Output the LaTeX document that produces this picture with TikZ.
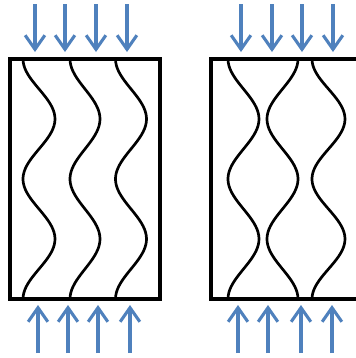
\documentclass[tikz,border=0pt]{standalone}
\usepackage{tikz}
\usetikzlibrary{arrows.meta}

\definecolor{azzurro}{RGB}{79,129,189}

\begin{document}
\begin{tikzpicture}[x=0.025cm, y=-0.025cm,
    blocco/.style={rectangle, draw, line width=3pt, inner sep=0pt, minimum width=3.75cm, minimum height=6cm},
    freccia/.style={azzurro, line width=2.2pt, -{Straight Barb[length=10pt, width=14pt]}},
    onda/.style={line width=1.9pt, smooth, samples=80, domain=59:299}]
              \useasboundingbox (0,0) rectangle (356,358);

              \node [blocco] (blocco1) at (85, 179) {};
              \node [blocco] (blocco2) at (286, 179) {};

              % onde nel primo blocco
              \draw [onda] plot ({39 - 16*cos(3*(\x-59))}, \x);
              \draw [onda] plot ({85 - 15*cos(3*(\x-59))}, \x);
              \draw [onda] plot ({131 - 15.5*cos(3*(\x-59))}, \x);

              % onde nel secondo blocco
              \draw [onda] plot ({243.5 - 15.5*cos(3*(\x-59))}, \x);
              \draw [onda] plot ({282.5 + 15.5*cos(3*(\x-59))}, \x);
              \draw [onda] plot ({328.5 - 16.5*cos(3*(\x-59))}, \x);

              % frecce sopra
              \coordinate (sopra1) at (35, 4);   \coordinate (punta1) at (35, 52);
              \coordinate (sopra2) at (65, 4);   \coordinate (punta2) at (65, 52);
              \coordinate (sopra3) at (96, 4);   \coordinate (punta3) at (96, 52);
              \coordinate (sopra4) at (127, 4);  \coordinate (punta4) at (127, 52);
              \coordinate (sopra5) at (241, 4);  \coordinate (punta5) at (241, 52);
              \coordinate (sopra6) at (272, 4);  \coordinate (punta6) at (272, 52);
              \coordinate (sopra7) at (302, 4);  \coordinate (punta7) at (302, 52);
              \coordinate (sopra8) at (333, 4);  \coordinate (punta8) at (333, 52);

              % frecce sotto
              \coordinate (sotto1) at (38, 353);  \coordinate (punta9) at (38, 305);
              \coordinate (sotto2) at (68, 353);  \coordinate (punta10) at (68, 305);
              \coordinate (sotto3) at (98, 353);  \coordinate (punta11) at (98, 305);
              \coordinate (sotto4) at (130, 353); \coordinate (punta12) at (130, 305);
              \coordinate (sotto5) at (238, 353); \coordinate (punta13) at (238, 305);
              \coordinate (sotto6) at (268, 353); \coordinate (punta14) at (268, 305);
              \coordinate (sotto7) at (301, 353); \coordinate (punta15) at (301, 305);
              \coordinate (sotto8) at (332, 353); \coordinate (punta16) at (332, 305);

              \draw [freccia] (sopra1) -- (punta1);
              \draw [freccia] (sopra2) -- (punta2);
              \draw [freccia] (sopra3) -- (punta3);
              \draw [freccia] (sopra4) -- (punta4);
              \draw [freccia] (sopra5) -- (punta5);
              \draw [freccia] (sopra6) -- (punta6);
              \draw [freccia] (sopra7) -- (punta7);
              \draw [freccia] (sopra8) -- (punta8);
              \draw [freccia] (sotto1) -- (punta9);
              \draw [freccia] (sotto2) -- (punta10);
              \draw [freccia] (sotto3) -- (punta11);
              \draw [freccia] (sotto4) -- (punta12);
              \draw [freccia] (sotto5) -- (punta13);
              \draw [freccia] (sotto6) -- (punta14);
              \draw [freccia] (sotto7) -- (punta15);
              \draw [freccia] (sotto8) -- (punta16);

            \end{tikzpicture}
\end{document}
